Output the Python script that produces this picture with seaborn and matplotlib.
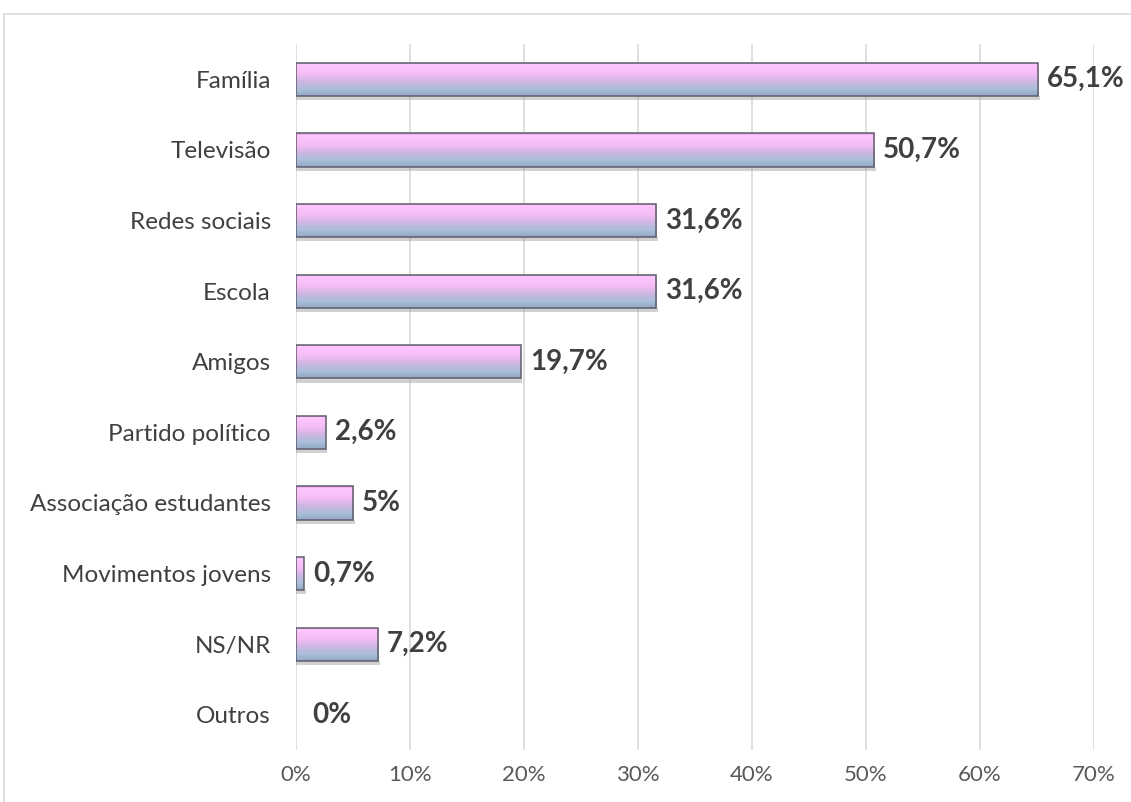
import numpy as np
import pandas as pd
import matplotlib
matplotlib.use("Agg")
import matplotlib.pyplot as plt
import matplotlib.patches as mpatches
from matplotlib.colors import LinearSegmentedColormap
import seaborn as sns

# data
categories = ["Família", "Televisão", "Redes sociais", "Escola", "Amigos",
              "Partido político", "Associação estudantes", "Movimentos jovens",
              "NS/NR", "Outros"]
values = [65.1, 50.7, 31.6, 31.6, 19.7, 2.6, 5.0, 0.7, 7.2, 0.0]
value_labels = ["65,1%", "50,7%", "31,6%", "31,6%", "19,7%", "2,6%", "5%",
                "0,7%", "7,2%", "0%"]
xticks = [0, 10, 20, 30, 40, 50, 60, 70]

df = pd.DataFrame({"cat": categories, "val": values})

sns.set_style("white")
plt.rcParams["font.family"] = ["Lato", "DejaVu Sans"]

fig = plt.figure(figsize=(11.31, 8.02), dpi=100)
ax = fig.add_axes([0.2617, 0.0648, 0.7056, 0.8803])

sns.barplot(data=df, x="val", y="cat", orient="h", ax=ax, width=0.47,
            color="#E0B8EC", edgecolor="#5E5E6A", linewidth=1.1, zorder=3)

# gradient fill (pink top -> blue-grey bottom) clipped to each bar
grad = LinearSegmentedColormap.from_list(
    "cyl", [(0.0, "#E890E8"), (0.06, "#FFC6FF"), (0.35, "#F6BCF6"),
            (0.58, "#CDB6E2"), (0.8, "#AABFD9"), (1.0, "#93A8C6")])
g = np.linspace(0, 1, 64).reshape(-1, 1)
for p in list(ax.patches):
    x0, y0, w, h = p.get_x(), p.get_y(), p.get_width(), p.get_height()
    if w <= 0:
        p.set_visible(False)
        continue
    # soft shadow under each bar
    sh = mpatches.Rectangle((x0, y0 + h), w + 0.15, 0.06, color="#9A9A9A",
                            alpha=0.45, zorder=2, linewidth=0)
    ax.add_patch(sh)
    im = ax.imshow(g, cmap=grad, aspect="auto", origin="upper",
                   extent=(x0, x0 + w, y0 + h, y0), zorder=3.5,
                   interpolation="bilinear")
    im.set_clip_path(p)
    p.set_facecolor("none")
    p.set_zorder(4)

ax.set_xlim(0, 70)
ax.set_ylim(len(categories) - 0.5, -0.5)

for i, (v, lab) in enumerate(zip(values, value_labels)):
    off = 0.8 if v > 0 else 1.4
    ax.text(v + off, i, lab, va="center", ha="left", fontsize=20,
            fontweight="bold", color="#404040", zorder=5)

ax.set_xticks(xticks)
ax.set_xticklabels([f"{t}%" for t in xticks])
ax.tick_params(axis="x", labelsize=16, colors="#595959", length=0, pad=11)
ax.tick_params(axis="y", labelsize=17.5, colors="#404040", length=0, pad=18)
ax.set_xlabel("")
ax.set_ylabel("")
ax.grid(axis="x", color="#D9D9D9", linewidth=1.2, zorder=0)
ax.set_axisbelow(True)
for s in ax.spines.values():
    s.set_visible(False)

# outer chart frame (cropped on right and bottom)
frame = mpatches.Rectangle((4 / 1131, -0.1), 1.2, 1 - 14 / 802 + 0.1,
                           transform=fig.transFigure, fill=False,
                           edgecolor="#D9D9D9", linewidth=1.2)
fig.patches.append(frame)

fig.savefig("out.png", dpi=100)
